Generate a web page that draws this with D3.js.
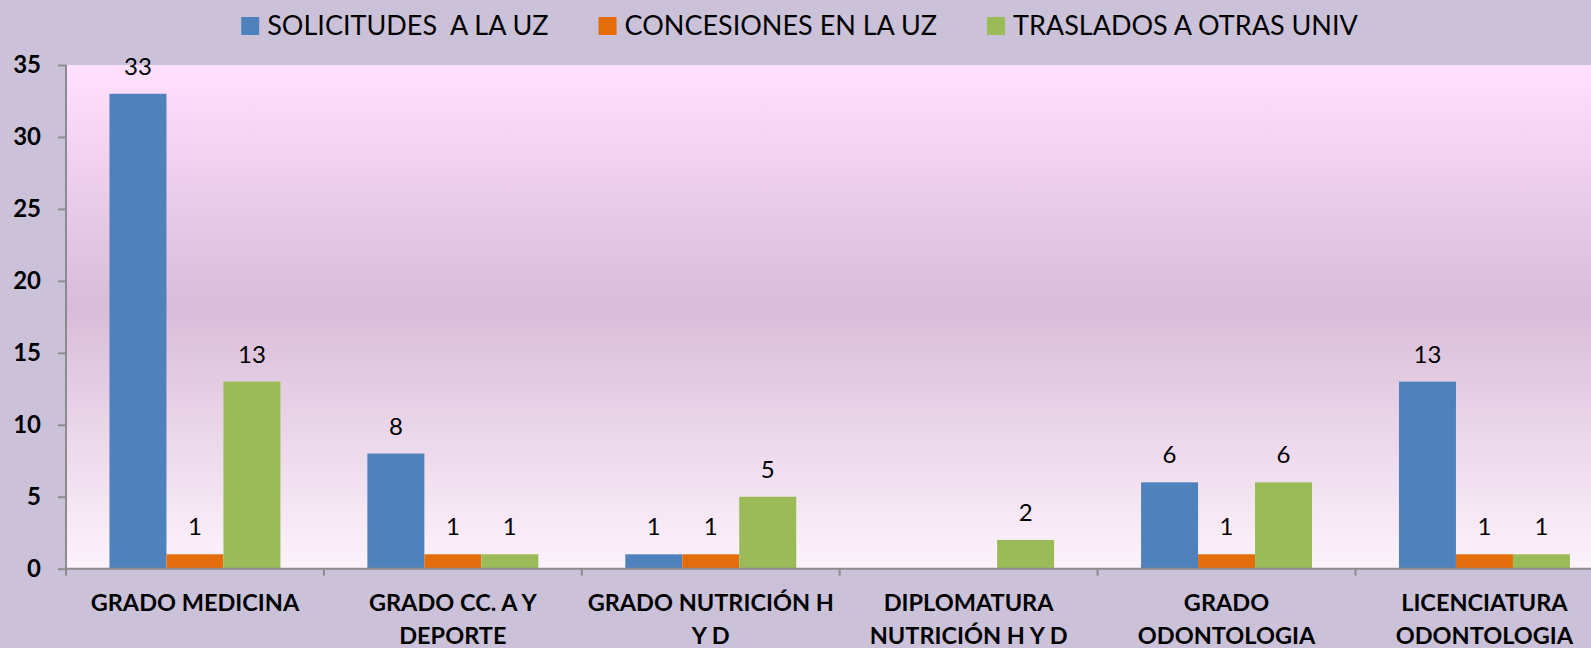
<!DOCTYPE html>
<html>
<head>
<meta charset="utf-8">
<script src="https://cdn.jsdelivr.net/npm/d3@7"></script>
<style>
  html, body { margin: 0; padding: 0; overflow: hidden; background: #cbc2da; }
  #chart { width: 1591px; height: 648px; }
  text { font-family: Lato, "Open Sans", sans-serif; }
</style>
</head>
<body>
<div id="chart"></div>
<script>
// chart data
var categories = ["GRADO MEDICINA", "GRADO CC. A Y DEPORTE", "GRADO NUTRICIÓN H Y D",
                  "DIPLOMATURA NUTRICIÓN H Y D", "GRADO ODONTOLOGIA", "LICENCIATURA ODONTOLOGIA"];
var categoryLines = [["GRADO MEDICINA"], ["GRADO CC. A Y", "DEPORTE"], ["GRADO NUTRICIÓN H", "Y D"],
                     ["DIPLOMATURA", "NUTRICIÓN H Y D"], ["GRADO", "ODONTOLOGIA"], ["LICENCIATURA", "ODONTOLOGIA"]];
var seriesNames = ["SOLICITUDES  A LA UZ", "CONCESIONES EN LA UZ", "TRASLADOS A OTRAS UNIV"];
var solicitudes = [33, 8, 1, null, 6, 13];
var concesiones = [1, 1, 1, null, 1, 1];
var traslados = [13, 1, 5, 2, 6, 1];
var yTicks = [0, 5, 10, 15, 20, 25, 30, 35];

var colors = ["#4f81bd", "#e46c0a", "#9bbb59"];
var seriesValues = [solicitudes, concesiones, traslados];

var width = 1591, height = 648;
// plot runs past the right edge of the picture, like the original
var plot = {left: 66, top: 65, right: 1613.4, bottom: 568.7};

var svg = d3.select("#chart")
    .append("svg")
    .attr("width", width)
    .attr("height", height);

var defs = svg.append("defs");
var grad = defs.append("linearGradient")
    .attr("id", "plotBg")
    .attr("x1", 0).attr("y1", 0).attr("x2", 0).attr("y2", 1);
grad.append("stop").attr("offset", "0%").attr("stop-color", "#ffe0ff");
grad.append("stop").attr("offset", "48%").attr("stop-color", "#d9bcd9");
grad.append("stop").attr("offset", "100%").attr("stop-color", "#fdf3fc");

svg.append("rect")
    .attr("width", width).attr("height", height)
    .attr("fill", "#cbc2da");

var x0 = d3.scaleBand()
    .domain(categories)
    .range([plot.left, plot.right])
    .padding(0);

var x1 = d3.scaleBand()
    .domain(seriesNames)
    .range([0, x0.bandwidth()])
    .paddingInner(0)
    .paddingOuter(0.763);

var yScale = d3.scaleLinear()
    .domain([0, 35])
    .range([plot.bottom, plot.top]);

svg.append("rect")
    .attr("x", plot.left)
    .attr("y", plot.top)
    .attr("width", plot.right - plot.left)
    .attr("height", plot.bottom - plot.top)
    .attr("fill", "url(#plotBg)");

// bars
var rows = categories.map(function(c, i) {
    return seriesNames.map(function(s, j) {
        return {cat: c, series: s, value: seriesValues[j][i], color: colors[j]};
    });
});

var groups = svg.selectAll(".group")
    .data(rows)
    .enter()
    .append("g")
    .attr("class", "group")
    .attr("transform", function(d, i) { return `translate(${x0(categories[i])},0)`; });

groups.selectAll("rect")
    .data(function(d) { return d.filter(function(e) { return e.value != null; }); })
    .enter()
    .append("rect")
    .attr("x", function(d) { return x1(d.series); })
    .attr("y", function(d) { return yScale(d.value); })
    .attr("width", x1.bandwidth())
    .attr("height", function(d) { return yScale(0) - yScale(d.value); })
    .attr("fill", function(d) { return d.color; });

groups.selectAll(".valueLabel")
    .data(function(d) { return d.filter(function(e) { return e.value != null; }); })
    .enter()
    .append("text")
    .attr("class", "valueLabel")
    .attr("x", function(d) { return x1(d.series) + x1.bandwidth() / 2; })
    .attr("y", function(d) { return yScale(d.value) - 19; })
    .attr("text-anchor", "middle")
    .attr("font-size", 24)
    .attr("fill", "#000")
    .text(function(d) { return d.value; });

// y axis
var yAxis = svg.append("g")
    .attr("class", "axis")
    .attr("transform", `translate(${plot.left},0)`)
    .call(d3.axisLeft(yScale).tickValues(yTicks).tickSize(8).tickPadding(17));

yAxis.select(".domain")
    .attr("d", `M0,${plot.top}V${plot.bottom + 7}`);

yAxis.selectAll("line, .domain")
    .attr("stroke", "#8c8c8c")
    .attr("stroke-width", 2);

yAxis.selectAll("text")
    .attr("font-family", "Lato, sans-serif")
    .attr("font-size", 24)
    .attr("font-weight", "bold")
    .attr("fill", "#000");

// x axis: baseline, boundary ticks and category labels
var xAxis = svg.append("g").attr("class", "axis");

xAxis.append("line")
    .attr("x1", plot.left).attr("x2", plot.right)
    .attr("y1", yScale(0)).attr("y2", yScale(0))
    .attr("stroke", "#8c8c8c")
    .attr("stroke-width", 2);

xAxis.selectAll(".xtick")
    .data(categories.slice(1))
    .enter()
    .append("line")
    .attr("class", "xtick")
    .attr("x1", function(d) { return x0(d); })
    .attr("x2", function(d) { return x0(d); })
    .attr("y1", yScale(0))
    .attr("y2", yScale(0) + 7)
    .attr("stroke", "#8c8c8c")
    .attr("stroke-width", 2);

var catLabels = xAxis.selectAll(".catLabel")
    .data(categories)
    .enter()
    .append("text")
    .attr("class", "catLabel")
    .attr("text-anchor", "middle")
    .attr("font-size", 23.5)
    .attr("font-weight", "bold")
    .attr("fill", "#000");

catLabels.selectAll("tspan")
    .data(function(d, i) { return categoryLines[i].map(function(l) { return {line: l, x: x0(d) + x0.bandwidth() / 2}; }); })
    .enter()
    .append("tspan")
    .attr("x", function(d) { return d.x; })
    .attr("y", function(d, k) { return 611 + k * 33; })
    .text(function(d) { return d.line; });

// legend
var legend = svg.append("g").attr("class", "legend");
var items = legend.selectAll(".item")
    .data(seriesNames)
    .enter()
    .append("g")
    .attr("class", "item");

items.append("rect")
    .attr("width", 18).attr("height", 18)
    .attr("y", 17)
    .attr("fill", function(d, i) { return colors[i]; });

items.append("text")
    .attr("x", 26)
    .attr("y", 35)
    .attr("font-size", 27)
    .attr("fill", "#000")
    .style("white-space", "pre")
    .text(function(d) { return d; });

var gap = 50, pos = 0, offsets = [];
items.each(function() {
    offsets.push(pos);
    pos += 26 + d3.select(this).select("text").node().getComputedTextLength() + gap;
});
var total = pos - gap;
var start = (width - total) / 2 + 4;
items.attr("transform", function(d, i) { return `translate(${start + offsets[i]},0)`; });
</script>
</body>
</html>
